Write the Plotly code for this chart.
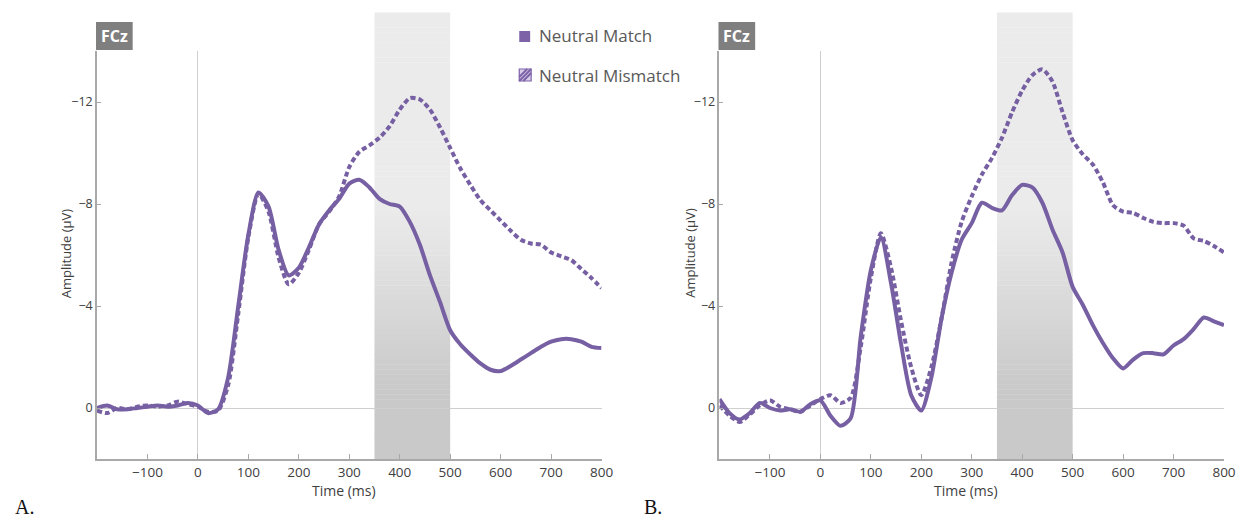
import plotly.graph_objects as go

# ---------------- data ----------------
time_ms = list(range(-200, 801, 20))

match_a = [0.0, -0.1, 0.05, 0.05, 0.0, -0.05, -0.1, -0.05, -0.1, -0.2, -0.1, 0.2, 0.05,
           -1.2, -4.0, -6.8, -8.45, -7.9, -6.2, -5.2, -5.5, -6.3, -7.2, -7.75, -8.2, -8.8,
           -8.95, -8.65, -8.2, -8.0, -7.9, -7.3, -6.4, -5.2, -4.15, -3.05, -2.5, -2.1, -1.75,
           -1.5, -1.45, -1.65, -1.9, -2.15, -2.4, -2.6, -2.7, -2.7, -2.6, -2.4, -2.35]
mismatch_a = [0.1, 0.2, 0.0, 0.05, -0.05, -0.1, -0.05, -0.1, -0.25, -0.15, -0.05, 0.15, 0.1,
              -0.9, -3.7, -6.7, -8.4, -7.7, -5.9, -4.85, -5.3, -6.2, -7.2, -7.7, -8.3, -9.45,
              -10.05, -10.3, -10.6, -11.05, -11.7, -12.15, -12.1, -11.7, -11.0, -10.2, -9.4,
              -8.75, -8.15, -7.75, -7.35, -6.95, -6.6, -6.45, -6.4, -6.1, -5.95, -5.8, -5.45,
              -5.1, -4.7]
match_b = [-0.35, 0.2, 0.45, 0.2, -0.2, 0.0, 0.1, 0.05, 0.15, -0.15, -0.3, 0.3, 0.7,
           0.4, -2.8, -5.4, -6.7, -4.9, -2.5, -0.5, 0.1, -1.2, -3.5, -5.3, -6.6, -7.25,
           -8.05, -7.85, -7.75, -8.35, -8.75, -8.65, -8.05, -7.0, -6.1, -4.75, -4.05, -3.25,
           -2.55, -1.95, -1.55, -1.9, -2.15, -2.15, -2.1, -2.45, -2.7, -3.1, -3.55, -3.4, -3.25]
mismatch_b = [-0.1, 0.3, 0.55, 0.25, -0.1, -0.3, -0.05, 0.05, 0.15, -0.1, -0.35, -0.5, -0.2,
              -0.4, -2.4, -5.1, -6.85, -5.5, -3.4, -1.6, -0.5, -1.6, -3.5, -5.7, -7.3, -8.3,
              -9.15, -9.8, -10.6, -11.6, -12.45, -13.05, -13.28, -12.8, -11.6, -10.5, -9.95,
              -9.55, -8.85, -7.95, -7.7, -7.65, -7.45, -7.3, -7.25, -7.25, -7.15, -6.65, -6.55,
              -6.35, -6.1]

x_tick_vals = [-100, 0, 100, 200, 300, 400, 500, 600, 700, 800]
y_tick_vals = [-12, -8, -4, 0]
window_ms = [350, 500]
series_names = ["Neutral Match", "Neutral Mismatch"]
panel_labels = ["A.", "B."]
channel = "FCz"

# ---------------- layout geometry (pixels) ----------------
W, H = 1248, 521
ML, MR, MT, MB = 97, 14, 51, 62
PW, PH = W - ML - MR, H - MT - MB


def px_x(p):
    return (p - ML) / PW


def px_y(p):
    return (H - MB - p) / PH


PURPLE = "#765fa2"
AXC = "#a9a9a9"
FONT = "Open Sans"

fig = go.Figure()
for i, (m, mm) in enumerate([(match_a, mismatch_a), (match_b, mismatch_b)]):
    xa = "x" if i == 0 else "x2"
    ya = "y" if i == 0 else "y2"
    fig.add_trace(go.Scatter(x=time_ms, y=m, mode="lines", xaxis=xa, yaxis=ya,
                             line=dict(color=PURPLE, width=4, shape="spline", smoothing=0.7),
                             name=series_names[0], showlegend=False))
    fig.add_trace(go.Scatter(x=time_ms, y=mm, mode="lines", xaxis=xa, yaxis=ya,
                             line=dict(color=PURPLE, width=4, dash="5px,3px", shape="spline",
                                       smoothing=0.7),
                             name=series_names[1], showlegend=False))

shapes = []
# gradient shaded window
top_px, bot_px = 13, H - MB
n = 90
for i, xr in enumerate(["x", "x2"]):
    for k in range(n):
        y0p = top_px + (bot_px - top_px) * k / n
        y1p = top_px + (bot_px - top_px) * (k + 1) / n
        ym = (y0p + y1p) / 2
        if ym < 210:
            g = 235
        elif ym > 390:
            g = 201
        else:
            g = 235 - (ym - 210) / 180 * 34
        g = int(round(g))
        shapes.append(dict(type="rect", xref=xr, yref="paper", x0=window_ms[0], x1=window_ms[1],
                           y0=px_y(y1p), y1=px_y(y0p) + 0.001, line=dict(width=0),
                           fillcolor=f"rgb({g},{g},{g})", layer="below"))

# legend squares
shapes.append(dict(type="rect", xref="paper", yref="paper", x0=px_x(523), x1=px_x(534),
                   y0=px_y(42), y1=px_y(31), fillcolor="#7d62a8", line=dict(width=0)))
shapes.append(dict(type="rect", xref="paper", yref="paper", x0=px_x(523), x1=px_x(535),
                   y0=px_y(81), y1=px_y(69), fillcolor="#d9cfe9",
                   line=dict(color="#7d62a8", width=1.2)))
for off in [-4, 0, 4]:
    shapes.append(dict(type="line", xref="paper", yref="paper",
                       x0=px_x(523 + max(0, off)), y0=px_y(81 - max(0, -off)),
                       x1=px_x(535 - max(0, -off)), y1=px_y(69 + max(0, off)),
                       line=dict(color="#7d62a8", width=2)))
# FCz boxes
for x0p in [96, 724]:
    shapes.append(dict(type="rect", xref="paper", yref="paper", x0=px_x(x0p), x1=px_x(x0p + 37),
                       y0=px_y(50), y1=px_y(22), fillcolor="#7f7f7f", line=dict(width=0)))

annotations = []
for x0p in [96, 724]:
    annotations.append(dict(text=f"<b>{channel}</b>", xref="paper", yref="paper",
                            x=px_x(x0p + 18.5), y=px_y(36), showarrow=False,
                            font=dict(family=FONT, size=16, color="white"),
                            xanchor="center", yanchor="middle"))
annotations.append(dict(text=series_names[0], xref="paper", yref="paper", x=px_x(541),
                        y=px_y(36), xanchor="left", yanchor="middle", showarrow=False,
                        font=dict(family=FONT, size=17, color="#595959")))
annotations.append(dict(text=series_names[1], xref="paper", yref="paper", x=px_x(541),
                        y=px_y(75), xanchor="left", yanchor="middle", showarrow=False,
                        font=dict(family=FONT, size=17, color="#595959")))
for cx, ycx, tx, tyy in [(66, 253, 346, 490), (695, 253, 974, 490)]:
    annotations.append(dict(text="Amplitude (μV)", xref="paper", yref="paper", x=px_x(cx),
                            y=px_y(ycx), textangle=-90, showarrow=False,
                            xanchor="center", yanchor="middle",
                            font=dict(family=FONT, size=13, color="#404040")))
    annotations.append(dict(text="Time (ms)", xref="paper", yref="paper", x=px_x(tx),
                            y=px_y(tyy), showarrow=False, xanchor="center", yanchor="middle",
                            font=dict(family=FONT, size=14, color="#404040")))
for lab, lx in zip(panel_labels, [12, 647]):
    annotations.append(dict(text=lab, xref="paper", yref="paper", x=px_x(lx), y=px_y(507),
                            xanchor="left", yanchor="middle", showarrow=False,
                            font=dict(family="Liberation Serif", size=20, color="#111111")))

xcommon = dict(range=[-200, 800], tickvals=x_tick_vals, showline=True, linecolor=AXC,
               linewidth=1.5, ticks="inside", ticklen=5, tickcolor=AXC, showgrid=False,
               zeroline=True, zerolinecolor="#cfcfcf", zerolinewidth=1.2,
               tickfont=dict(family=FONT, size=13.5, color="#404040"), fixedrange=True)
ycommon = dict(range=[2, -14], tickvals=y_tick_vals, showline=True, linecolor=AXC,
               linewidth=1.5, ticks="inside", ticklen=4, tickcolor=AXC, showgrid=False,
               zeroline=True, zerolinecolor="#cfcfcf", zerolinewidth=1.2,
               tickfont=dict(family=FONT, size=12.5, color="#404040"), fixedrange=True)

fig.update_layout(
    width=W, height=H,
    margin=dict(l=ML, r=MR, t=MT, b=MB),
    paper_bgcolor="white", plot_bgcolor="rgba(0,0,0,0)",
    showlegend=False,
    xaxis=dict(domain=[0, px_x(606)], anchor="y", **xcommon),
    yaxis=dict(domain=[0, 1], anchor="x", **ycommon),
    xaxis2=dict(domain=[px_x(725), 1], anchor="y2", **xcommon),
    yaxis2=dict(domain=[0, 1], anchor="x2", **ycommon),
    shapes=shapes, annotations=annotations,
)

fig.write_html("out.html")
